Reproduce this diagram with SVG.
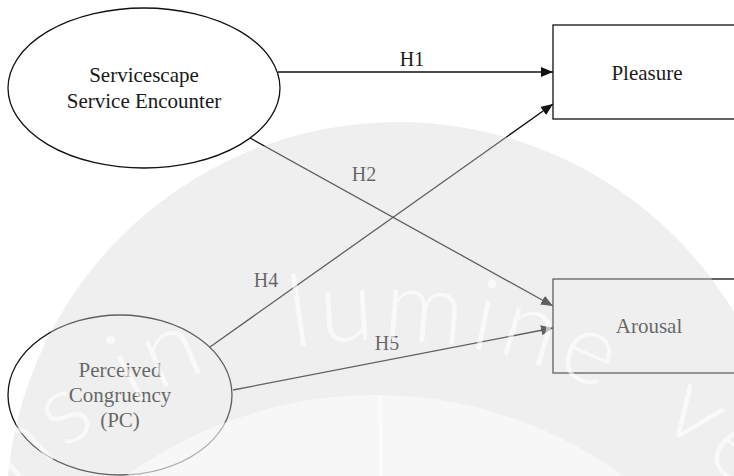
<svg xmlns="http://www.w3.org/2000/svg" width="734" height="476" viewBox="0 0 734 476">
  <style>
    .node { fill: #ffffff; stroke: #111111; stroke-width: 1.3; }
    .lbl { font-family: "Liberation Serif", "Times New Roman", serif; font-size: 21px; fill: #1a1a1a; text-anchor: middle; }
    .hl { font-family: "Liberation Serif", "Times New Roman", serif; font-size: 20px; fill: #1a1a1a; text-anchor: middle; }
    .conn { fill: none; stroke: #111111; stroke-width: 1.3; marker-end: url(#arrow); }
    .wm { font-family: Lato, "Open Sans", "Liberation Sans", sans-serif; font-size: 100px; font-weight: 300; fill: #ffffff; fill-opacity: 0.6; letter-spacing: 6px; }
  </style>
  <defs>
    <marker id="arrow" markerUnits="userSpaceOnUse" markerWidth="12" markerHeight="10" refX="12" refY="5" orient="auto">
      <path d="M0,0 L12,5 L0,10 Z" fill="#111111"/>
    </marker>
    <path id="wmArc" d="M -126,846 A 506 506 0 0 1 886,846"/>
  </defs>
  <rect x="0" y="0" width="734" height="476" fill="#ffffff"/>

  <g id="connectors">
    <path class="conn" d="M278,72 L553,72"/>
    <path class="conn" d="M250,138 L553,306"/>
    <path class="conn" d="M210,347 L553,104"/>
    <path class="conn" d="M233,390 L553,328"/>
    <text class="hl" x="412" y="66">H1</text>
    <text class="hl" x="364" y="181">H2</text>
    <text class="hl" x="266" y="287">H4</text>
    <text class="hl" x="387" y="350">H5</text>
  </g>

  <g id="servicescape">
    <ellipse class="node" cx="144" cy="88" rx="136" ry="80"/>
    <text class="lbl" x="144" y="82">Servicescape</text>
    <text class="lbl" x="144" y="108">Service Encounter</text>
  </g>

  <g id="pleasure">
    <rect class="node" x="553" y="25" width="189" height="94"/>
    <text class="lbl" x="647" y="80">Pleasure</text>
  </g>

  <g id="arousal">
    <rect class="node" x="553" y="279" width="189" height="94"/>
    <text class="lbl" x="649" y="333">Arousal</text>
  </g>

  <g id="perceived-congruency">
    <ellipse class="node" cx="120" cy="395" rx="112" ry="80"/>
    <text class="lbl" x="120" y="377">Perceived</text>
    <text class="lbl" x="120" y="402">Congruency</text>
    <text class="lbl" x="120" y="427">(PC)</text>
  </g>

  <g id="watermark">
    <circle cx="398" cy="514" r="392" fill="rgb(215,215,215)" fill-opacity="0.4"/>
    <circle cx="375" cy="817" r="422" fill="#ffffff" fill-opacity="0.5"/>
    <line x1="380" y1="396" x2="381" y2="476" stroke="#ffffff" stroke-opacity="0.6" stroke-width="3"/>
    <text class="wm"><textPath href="#wmArc" startOffset="625" text-anchor="end">Serviens in</textPath></text>
    <text class="wm"><textPath href="#wmArc" startOffset="707">lumine</textPath></text>
    <text class="wm"><textPath href="#wmArc" startOffset="1088">veritatis</textPath></text>
  </g>
</svg>
